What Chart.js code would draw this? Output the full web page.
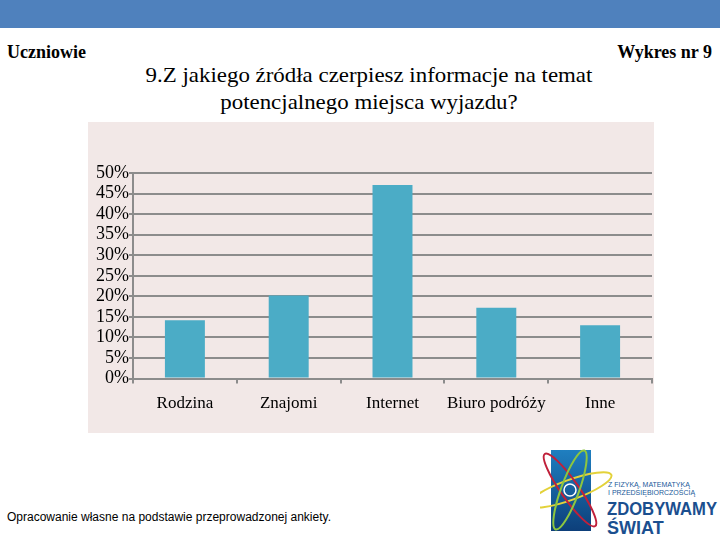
<!DOCTYPE html>
<html><head><meta charset="utf-8">
<script src="https://cdn.jsdelivr.net/npm/chart.js@4.4.1/dist/chart.umd.min.js"></script>
<style>
html,body{margin:0;padding:0;width:720px;height:540px;background:#fff;overflow:hidden;position:relative}
#hdr{position:absolute;left:0;top:0;width:720px;height:28px;background:#4F81BD}
.t{position:absolute;font-family:"Liberation Serif","Times New Roman",serif;color:#000;white-space:nowrap}
#panel{position:absolute;left:88px;top:122px;width:566px;height:311px;background:#F2E8E7}
#c{position:absolute;left:0;top:0}
</style></head><body>
<div id="hdr"></div>
<div id="panel"></div>
<div class="t" style="left:7px;top:42px;font-size:18px;font-weight:bold">Uczniowie</div>
<div class="t" style="right:8px;top:42px;font-size:18px;font-weight:bold">Wykres nr 9</div>
<div class="t" style="left:0;width:738px;top:62px;font-family:'Liberation Serif',serif;font-size:21px;text-align:center;line-height:27px;transform:scaleX(1.09);transform-origin:369px 0">9.Z jakiego źródła czerpiesz informacje na temat<br>potencjalnego miejsca wyjazdu?</div>
<div style="position:absolute;left:7px;top:510px;font-family:'Liberation Sans',Arial,sans-serif;font-size:12px;color:#000;white-space:nowrap">Opracowanie własne na podstawie przeprowadzonej ankiety.</div>
<svg style="position:absolute;left:540px;top:440px" width="180" height="100">
  <defs><linearGradient id="g" x1="0" y1="0" x2="0" y2="1"><stop offset="0" stop-color="#1f7fc0"/><stop offset="1" stop-color="#0d3f7a"/></linearGradient></defs>
  <rect x="11" y="10" width="40" height="81" fill="url(#g)"/>
  <ellipse cx="30" cy="50" rx="44" ry="10" fill="none" stroke="#e3d23a" stroke-width="2" transform="rotate(-20 30 50)"/>
  <ellipse cx="30" cy="50" rx="44" ry="9" fill="none" stroke="#c0203a" stroke-width="2" transform="rotate(55 30 50)"/>
  <ellipse cx="30" cy="50" rx="42" ry="9" fill="none" stroke="#8dc63f" stroke-width="2" transform="rotate(-70 30 50)"/>
  <circle cx="30" cy="50" r="6" fill="none" stroke="#fff" stroke-width="1.5"/>
  <text x="68" y="47" font-family="Liberation Sans,Arial" font-size="7" fill="#1b5a9a">Z FIZYKĄ, MATEMATYKĄ</text>
  <text x="68" y="55" font-family="Liberation Sans,Arial" font-size="7" fill="#1b5a9a">I PRZEDSIĘBIORCZOŚCIĄ</text>
  <text x="67" y="75" font-family="Liberation Sans,Arial" font-size="18" font-weight="bold" fill="#1b4f8f" textLength="110" lengthAdjust="spacingAndGlyphs">ZDOBYWAMY</text>
  <text x="67" y="94" font-family="Liberation Sans,Arial" font-size="18" font-weight="bold" fill="#1b4f8f">ŚWIAT</text>
</svg>
<canvas id="c" width="720" height="540"></canvas>
<script>
const categories = ["Rodzina", "Znajomi", "Internet", "Biuro podróży", "Inne"];
const values = [14.2, 20.2, 47.1, 17.2, 13.0];
const yTicks = [0, 5, 10, 15, 20, 25, 30, 35, 40, 45, 50];

const serif = "'Liberation Serif','Times New Roman',serif";
new Chart(document.getElementById('c'), {
  type: 'bar',
  data: { labels: categories, datasets: [{ data: values, backgroundColor: '#4BACC6', borderWidth: 0, barPercentage: 0.385, categoryPercentage: 1 }] },
  options: {
    responsive: false, animation: false,
    layout: { padding: { left: 0, right: 68, top: 173, bottom: 116 } },
    plugins: { legend: { display: false }, tooltip: { enabled: false }, title: { display: false } },
    scales: {
      x: {
        offset: true,
        grid: { offset: true, drawOnChartArea: false, drawTicks: true, tickLength: 5, color: '#8C8C8C', lineWidth: 2 },
        border: { color: '#8C8C8C', width: 2 },
        ticks: { color: '#000', font: { family: serif, size: 17 }, padding: 10, maxRotation: 0, autoSkip: false }
      },
      y: {
        min: 0, max: 50,
        afterFit: s => { s.width = 133; },
        afterBuildTicks: s => { s.ticks = yTicks.map(v => ({ value: v })); },
        grid: { color: '#8C8C8C', lineWidth: 2, tickLength: 4 },
        border: { color: '#8C8C8C', width: 2 },
        ticks: { color: '#000', font: { family: serif, size: 18 }, padding: 0, autoSkip: false, callback: v => v + '%' }
      }
    }
  }
});
</script>
</body></html>
